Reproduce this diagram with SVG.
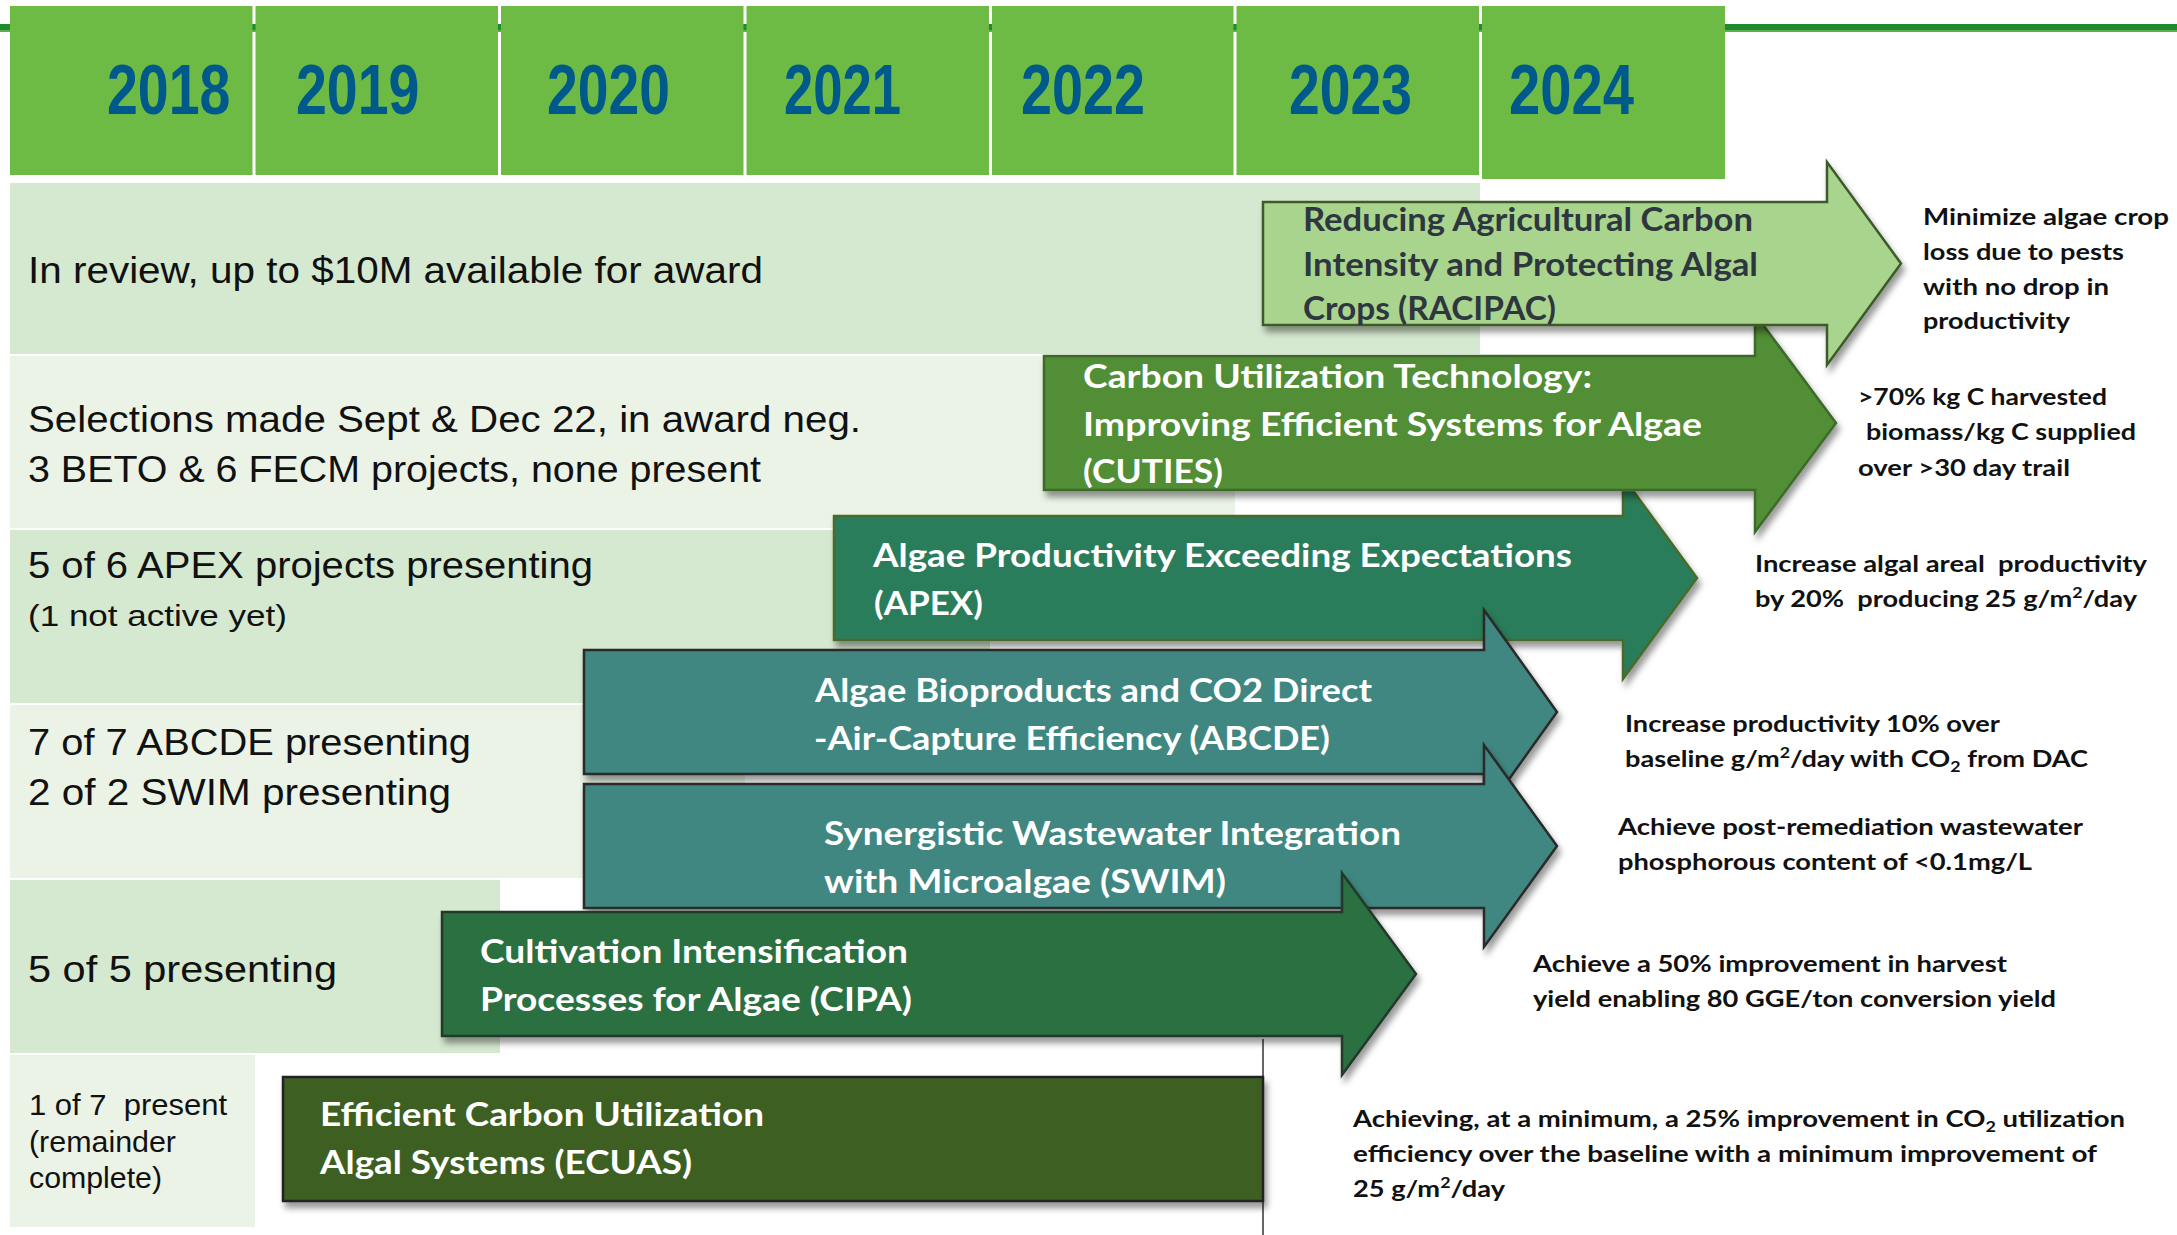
<svg xmlns="http://www.w3.org/2000/svg" width="2177" height="1235" viewBox="0 0 2177 1235">
<defs>
<filter id="sh" x="-5%" y="-10%" width="115%" height="135%">
<feDropShadow dx="3" dy="6" stdDeviation="3" flood-color="#000" flood-opacity="0.4"/>
</filter>
</defs>
<style>
.hd{fill:#6DBB45}
.yr{font-family:"Liberation Sans Narrow","Liberation Sans",Arial,sans-serif;font-weight:bold;font-size:71px;fill:#00598B}
.rd{fill:#D5E8D0}
.rl{fill:#EAF3E6}
.st{font-family:"Liberation Sans",Arial,sans-serif;font-size:36px;fill:#111}
.sm{font-size:29px}
.lb{font-family:Lato,"Liberation Sans",sans-serif;font-weight:bold;font-size:32px;fill:#fff}
.ds{font-family:Lato,"Liberation Sans",sans-serif;font-weight:bold;font-size:23px;fill:#111}
.ar{stroke-width:2.5;filter:url(#sh)}
.pre{white-space:pre}
</style>
<rect x="0" y="24" width="2177" height="8" fill="#1E8B2D"/>
<rect x="0" y="30" width="2177" height="2" fill="#5DAF4E"/>
<g id="header">
<g id="y2018"><rect class="hd" x="10" y="6" width="242.5" height="169"/><text class="yr" x="107" y="114" textLength="123.5" lengthAdjust="spacingAndGlyphs">2018</text></g>
<g id="y2019"><rect class="hd" x="255.5" y="6" width="242.5" height="169"/><text class="yr" x="296" y="114" textLength="123.5" lengthAdjust="spacingAndGlyphs">2019</text></g>
<g id="y2020"><rect class="hd" x="501" y="6" width="242.5" height="169"/><text class="yr" x="547" y="114" textLength="123" lengthAdjust="spacingAndGlyphs">2020</text></g>
<g id="y2021"><rect class="hd" x="746.5" y="6" width="242.5" height="169"/><text class="yr" x="784" y="114" textLength="117" lengthAdjust="spacingAndGlyphs">2021</text></g>
<g id="y2022"><rect class="hd" x="992" y="6" width="241.5" height="169"/><text class="yr" x="1021" y="114" textLength="124" lengthAdjust="spacingAndGlyphs">2022</text></g>
<g id="y2023"><rect class="hd" x="1236.5" y="6" width="242.5" height="169"/><text class="yr" x="1289" y="114" textLength="123" lengthAdjust="spacingAndGlyphs">2023</text></g>
<g id="y2024"><rect class="hd" x="1482" y="6" width="243" height="173"/><text class="yr" x="1509" y="114" textLength="125" lengthAdjust="spacingAndGlyphs">2024</text></g>
</g>
<g id="status-rows">
<g id="row1"><rect class="rd" x="10" y="183" width="1470" height="171"/>
<text class="st" x="28" y="283" textLength="735" lengthAdjust="spacingAndGlyphs">In review, up to $10M available for award</text></g>
<g id="row2"><rect class="rl" x="10" y="356" width="1225" height="172"/>
<text class="st" x="28" y="432" textLength="833" lengthAdjust="spacingAndGlyphs">Selections made Sept &amp; Dec 22, in award neg.</text>
<text class="st" x="28" y="482" textLength="733" lengthAdjust="spacingAndGlyphs">3 BETO &amp; 6 FECM projects, none present</text></g>
<g id="row3"><rect class="rd" x="10" y="530" width="980" height="173"/>
<text class="st" x="28" y="578" textLength="565" lengthAdjust="spacingAndGlyphs">5 of 6 APEX projects presenting</text>
<text class="st sm" x="28" y="626" textLength="259" lengthAdjust="spacingAndGlyphs">(1 not active yet)</text></g>
<g id="row4"><rect class="rl" x="10" y="705" width="735" height="173"/>
<text class="st" x="28" y="755" textLength="443" lengthAdjust="spacingAndGlyphs">7 of 7 ABCDE presenting</text>
<text class="st" x="28" y="805" textLength="423" lengthAdjust="spacingAndGlyphs">2 of 2 SWIM presenting</text></g>
<g id="row5"><rect class="rd" x="10" y="880" width="490" height="173"/>
<text class="st" x="28" y="982" textLength="309" lengthAdjust="spacingAndGlyphs">5 of 5 presenting</text></g>
<g id="row6"><rect class="rl" x="10" y="1055" width="245" height="172"/>
<text class="st sm pre" xml:space="preserve" x="29" y="1115" textLength="198" lengthAdjust="spacingAndGlyphs">1 of 7  present</text>
<text class="st sm" x="29" y="1152" textLength="147" lengthAdjust="spacingAndGlyphs">(remainder</text>
<text class="st sm" x="29" y="1188" textLength="133" lengthAdjust="spacingAndGlyphs">complete)</text></g>
</g>
<g id="connectors">
<line x1="1263" y1="1039" x2="1263" y2="1235" stroke="#333" stroke-width="1.5"/>
</g>
<g id="apex">
<path class="ar" d="M834,516 H1623 V477 L1697,578 L1623,679 V640 H834 Z" fill="#2B7D5A" stroke="#4A6B2A"/>
<text class="lb" x="873" y="567" textLength="699" lengthAdjust="spacingAndGlyphs">Algae Productivity Exceeding Expectations</text>
<text class="lb" x="874" y="615" textLength="109" lengthAdjust="spacingAndGlyphs">(APEX)</text>
<text class="ds" x="1755" y="572" textLength="392" lengthAdjust="spacingAndGlyphs" xml:space="preserve" style="white-space:pre">Increase algal areal  productivity</text>
<text class="ds" x="1755" y="607" textLength="382" lengthAdjust="spacingAndGlyphs" xml:space="preserve" style="white-space:pre">by 20%  producing 25 g/m<tspan font-size="15" dy="-9">2</tspan><tspan dy="9">/day</tspan></text>
</g>
<g id="cuties">
<path class="ar" d="M1044,356 H1755 V314 L1836,423 L1755,532 V490 H1044 Z" fill="#518E34" stroke="#3E6B2B"/>
<text class="lb" x="1083" y="388" textLength="509" lengthAdjust="spacingAndGlyphs">Carbon Utilization Technology:</text>
<text class="lb" x="1083" y="436" textLength="619" lengthAdjust="spacingAndGlyphs">Improving Efficient Systems for Algae</text>
<text class="lb" x="1083" y="483" textLength="140" lengthAdjust="spacingAndGlyphs">(CUTIES)</text>
<text class="ds" x="1858" y="405" textLength="249" lengthAdjust="spacingAndGlyphs">&gt;70% kg C harvested</text>
<text class="ds" x="1866" y="440" textLength="270" lengthAdjust="spacingAndGlyphs">biomass/kg C supplied</text>
<text class="ds" x="1858" y="476" textLength="212" lengthAdjust="spacingAndGlyphs">over &gt;30 day trail</text>
</g>
<g id="racipac">
<path class="ar" d="M1263,202 H1827 V162 L1901,263.5 L1827,365 V325 H1263 Z" fill="#A9D48D" stroke="#3D5A2B"/>
<text class="lb" style="fill:#2E3740" x="1303" y="231" font-size="31" textLength="450" lengthAdjust="spacingAndGlyphs">Reducing Agricultural Carbon</text>
<text class="lb" style="fill:#2E3740" x="1303" y="276" font-size="31" textLength="455" lengthAdjust="spacingAndGlyphs">Intensity and Protecting Algal</text>
<text class="lb" style="fill:#2E3740" x="1303" y="320" font-size="31" textLength="253" lengthAdjust="spacingAndGlyphs">Crops (RACIPAC)</text>
<text class="ds" x="1923" y="225" font-size="24" textLength="246" lengthAdjust="spacingAndGlyphs">Minimize algae crop</text>
<text class="ds" x="1923" y="260" font-size="24" textLength="201" lengthAdjust="spacingAndGlyphs">loss due to pests</text>
<text class="ds" x="1923" y="295" font-size="24" textLength="186" lengthAdjust="spacingAndGlyphs">with no drop in</text>
<text class="ds" x="1923" y="329" font-size="24" textLength="147" lengthAdjust="spacingAndGlyphs">productivity</text>
</g>
<g id="abcde">
<path class="ar" d="M584,650 H1484 V610 L1557,712 L1484,814 V774 H584 Z" fill="#418781" stroke="#2A2A2A"/>
<text class="lb" x="815" y="702" textLength="557" lengthAdjust="spacingAndGlyphs">Algae Bioproducts and CO2 Direct</text>
<text class="lb" x="814" y="750" textLength="516" lengthAdjust="spacingAndGlyphs">-Air-Capture Efficiency (ABCDE)</text>
<text class="ds" x="1625" y="732" textLength="375" lengthAdjust="spacingAndGlyphs">Increase productivity 10% over</text>
<text class="ds" x="1625" y="767" textLength="463" lengthAdjust="spacingAndGlyphs">baseline g/m<tspan font-size="15" dy="-9">2</tspan><tspan dy="9">/day with CO</tspan><tspan font-size="15" dy="5">2</tspan><tspan dy="-5"> from DAC</tspan></text>
</g>
<g id="swim">
<path class="ar" d="M584,784 H1484 V745 L1557,846 L1484,947 V908 H584 Z" fill="#418781" stroke="#2A2A2A"/>
<text class="lb" x="824" y="845" textLength="577" lengthAdjust="spacingAndGlyphs">Synergistic Wastewater Integration</text>
<text class="lb" x="824" y="893" textLength="402" lengthAdjust="spacingAndGlyphs">with Microalgae (SWIM)</text>
<text class="ds" x="1618" y="835" textLength="465" lengthAdjust="spacingAndGlyphs">Achieve post-remediation wastewater</text>
<text class="ds" x="1618" y="870" textLength="414" lengthAdjust="spacingAndGlyphs">phosphorous content of &lt;0.1mg/L</text>
</g>
<g id="cipa">
<path class="ar" d="M442,912 H1342 V873 L1416,974 L1342,1075 V1036 H442 Z" fill="#29703F" stroke="#24382A"/>
<text class="lb" x="480" y="963" textLength="428" lengthAdjust="spacingAndGlyphs">Cultivation Intensification</text>
<text class="lb" x="480" y="1011" textLength="432" lengthAdjust="spacingAndGlyphs">Processes for Algae (CIPA)</text>
<text class="ds" x="1533" y="972" textLength="474" lengthAdjust="spacingAndGlyphs">Achieve a 50% improvement in harvest</text>
<text class="ds" x="1533" y="1007" textLength="523" lengthAdjust="spacingAndGlyphs">yield enabling 80 GGE/ton conversion yield</text>
</g>
<g id="ecuas">
<rect class="ar" x="283" y="1077" width="980" height="124" fill="#3D5F21" stroke="#222"/>
<text class="lb" x="320" y="1126" textLength="444" lengthAdjust="spacingAndGlyphs">Efficient Carbon Utilization</text>
<text class="lb" x="320" y="1174" textLength="372" lengthAdjust="spacingAndGlyphs">Algal Systems (ECUAS)</text>
<text class="ds" x="1353" y="1127" textLength="772" lengthAdjust="spacingAndGlyphs">Achieving, at a minimum, a 25% improvement in CO<tspan font-size="15" dy="5">2</tspan><tspan dy="-5"> utilization</tspan></text>
<text class="ds" x="1353" y="1162" textLength="744" lengthAdjust="spacingAndGlyphs">efficiency over the baseline with a minimum improvement of</text>
<text class="ds" x="1353" y="1197" textLength="152" lengthAdjust="spacingAndGlyphs">25 g/m<tspan font-size="15" dy="-9">2</tspan><tspan dy="9">/day</tspan></text>
</g>
</svg>
